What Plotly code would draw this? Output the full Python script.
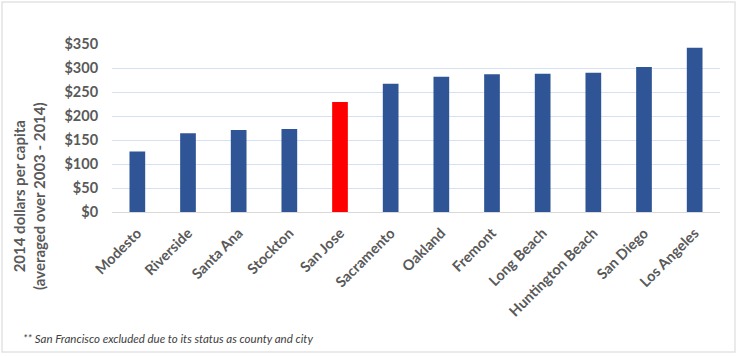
import plotly.graph_objects as go

cities = ["Modesto", "Riverside", "Santa Ana", "Stockton", "San Jose", "Sacramento",
          "Oakland", "Fremont", "Long Beach", "Huntington Beach", "San Diego", "Los Angeles"]
values = [126, 164, 171, 173, 229, 267, 282, 287, 288, 290, 302, 342]
highlight = "San Jose"
y_ticks = [0, 50, 100, 150, 200, 250, 300, 350]
y_tick_labels = ["$0", "$50", "$100", "$150", "$200", "$250", "$300", "$350"]

BLUE = "#2F5597"
RED = "#FF0000"
colors = [RED if c == highlight else BLUE for c in cities]

W, H = 738, 356
L, R, T, B = 112, 18, 44, 144
pw, ph = W - L - R, H - T - B

def px(xp):
    return (xp - L) / pw

def py(yp):
    return (H - B - yp) / ph

fig = go.Figure(go.Bar(
    x=cities, y=values, marker=dict(color=colors, line=dict(width=0)),
    width=0.31, hoverinfo="x+y",
))

font_tick = dict(family="Lato, Open Sans, sans-serif", size=14.5, color="#595959")

fig.update_layout(
    width=W, height=H,
    margin=dict(l=L, r=R, t=T, b=B, pad=0),
    paper_bgcolor="white", plot_bgcolor="white",
    showlegend=False,
    font=dict(family="Lato, Open Sans, sans-serif"),
)
fig.update_yaxes(
    range=[0, 350], tickvals=y_ticks, ticktext=y_tick_labels,
    tickfont=dict(font_tick, weight="bold"),
    showgrid=True, gridcolor="#D6E2F3", gridwidth=1.2,
    zeroline=False, showline=False, ticks="outside", ticklen=10,
    tickcolor="rgba(0,0,0,0)",
)
fig.update_xaxes(
    tickangle=-45, tickfont=dict(font_tick, weight="bold"),
    showline=True, linecolor="#D9D9D9", linewidth=1,
    showgrid=False, ticks="outside", ticklen=6, tickcolor="rgba(0,0,0,0)",
    range=[-0.5, len(cities) - 0.5],
)

fig.add_annotation(
    text="<b>2014 dollars per capita<br>(averaged over 2003 - 2014)</b>",
    xref="paper", yref="paper", x=px(29), y=py(196),
    xanchor="center", yanchor="middle", textangle=-90, showarrow=False,
    font=dict(family="Lato, Open Sans, sans-serif", size=15, color="#595959"),
)
fig.add_annotation(
    text="<i>** San Francisco excluded due to its status as county and city</i>",
    xref="paper", yref="paper", x=px(21), y=py(338),
    xanchor="left", yanchor="middle", showarrow=False,
    font=dict(family="Lato, Open Sans, sans-serif", size=11.5, color="#404040"),
)
fig.add_shape(
    type="rect", xref="paper", yref="paper",
    x0=px(2), x1=px(735), y0=py(352), y1=py(2),
    line=dict(color="#E3E3E3", width=1.5), fillcolor="rgba(0,0,0,0)", layer="below",
)

fig.write_html(
    "out.html",
    config={"displayModeBar": False},
    post_script="document.body.style.margin='0';document.body.style.padding='0';",
)
